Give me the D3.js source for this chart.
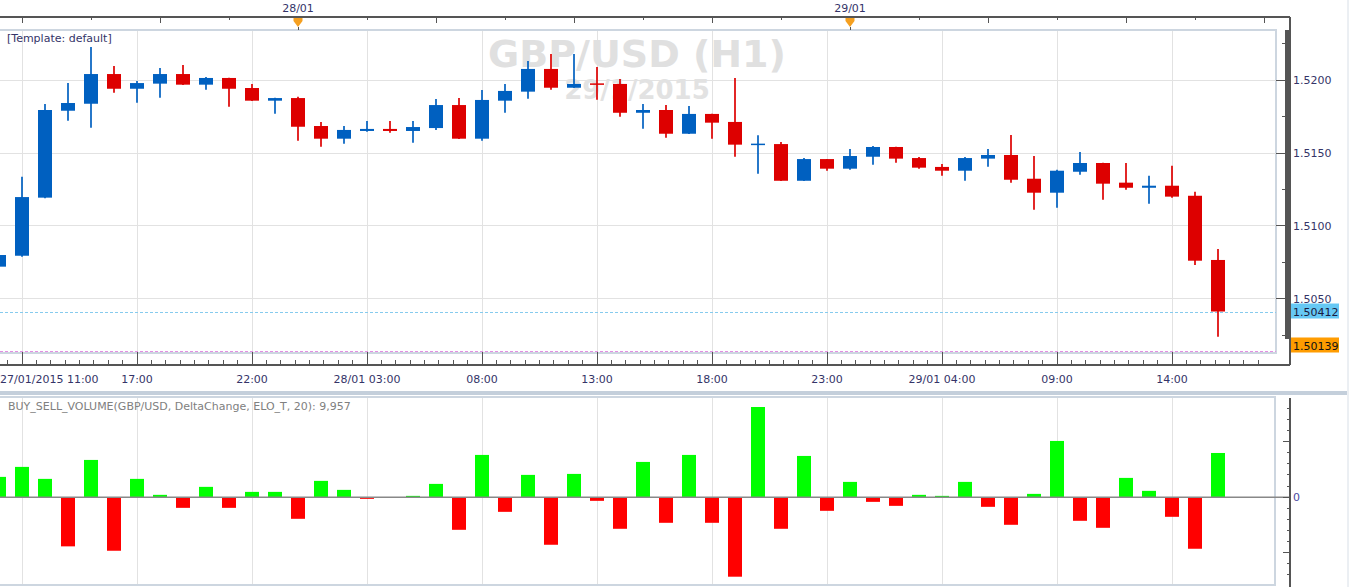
<!DOCTYPE html>
<html lang="en">
<head>
    <meta charset="UTF-8">
    <title>GBP/USD (H1)</title>
    <script src="https://d3js.org/d3.v7.min.js"></script>
    <style>
        body {
            margin: 0;
            background: white;
            font-family: "DejaVu Sans", Verdana, sans-serif;
        }
        svg text {
            font-size: 11px;
        }
        .grid {
            stroke: #e2e2e2;
            stroke-width: 1;
            shape-rendering: crispEdges;
        }
        .axis-line {
            stroke: #555;
            stroke-width: 1.5;
            shape-rendering: crispEdges;
        }
        .tick {
            stroke: #555;
            stroke-width: 1;
            shape-rendering: crispEdges;
        }
        .lbl {
            fill: #343468;
        }
        .panel {
            fill: none;
            stroke: #cdd6e0;
            stroke-width: 2;
        }
    </style>
</head>
<body>
<svg id="chart" width="1350" height="587"></svg>
<script>
    // candles, first one is index -1 (partly off the left edge)
    const firstIndex = -1;
    const openPrices = [1.50720, 1.50795, 1.51194, 1.51791, 1.51839, 1.52043, 1.51942, 1.51977, 1.52043, 1.51970,
        1.52016, 1.51947, 1.51860, 1.51878, 1.51686, 1.51599, 1.51652, 1.51666, 1.51652, 1.51672,
        1.51830, 1.51599, 1.51860, 1.51922, 1.52078, 1.51949, 1.51979, 1.51975, 1.51777, 1.51796,
        1.51633, 1.51769, 1.51714, 1.51558, 1.51562, 1.51310, 1.51459, 1.51393, 1.51475, 1.51542,
        1.51466, 1.51405, 1.51379, 1.51462, 1.51487, 1.51324, 1.51228, 1.51372, 1.51432, 1.51297,
        1.51262, 1.51276, 1.51207, 1.50766];
    const highPrices = [1.50821, 1.51338, 1.51837, 1.51981, 1.52229, 1.52098, 1.51995, 1.52084, 1.52105, 1.52023,
        1.52018, 1.51975, 1.51880, 1.51887, 1.51714, 1.51686, 1.51720, 1.51720, 1.51720, 1.51872,
        1.51878, 1.51933, 1.51975, 1.52133, 1.52181, 1.52181, 1.52091, 1.52009, 1.51837, 1.51830,
        1.51823, 1.51770, 1.52016, 1.51622, 1.51576, 1.51466, 1.51460, 1.51528, 1.51549, 1.51543,
        1.51473, 1.51425, 1.51473, 1.51528, 1.51624, 1.51480, 1.51386, 1.51508, 1.51433, 1.51432,
        1.51345, 1.51413, 1.51235, 1.50841];
    const lowPrices = [1.50711, 1.50788, 1.51190, 1.51723, 1.51674, 1.51915, 1.51846, 1.51880, 1.51968, 1.51935,
        1.51819, 1.51858, 1.51771, 1.51585, 1.51544, 1.51565, 1.51647, 1.51640, 1.51571, 1.51659,
        1.51597, 1.51585, 1.51777, 1.51874, 1.51935, 1.51947, 1.51867, 1.51750, 1.51668, 1.51606,
        1.51631, 1.51599, 1.51475, 1.51359, 1.51308, 1.51308, 1.51379, 1.51386, 1.51420, 1.51434,
        1.51393, 1.51345, 1.51310, 1.51407, 1.51297, 1.51111, 1.51125, 1.51352, 1.51180, 1.51249,
        1.51152, 1.51194, 1.50731, 1.50239];
    const closePrices = [1.50800, 1.51198, 1.51796, 1.51844, 1.52043, 1.51942, 1.51981, 1.52043, 1.51970, 1.52016,
        1.51942, 1.51860, 1.51878, 1.51681, 1.51599, 1.51659, 1.51666, 1.51652, 1.51679, 1.51830,
        1.51599, 1.51865, 1.51927, 1.52078, 1.51949, 1.51975, 1.51973, 1.51777, 1.51796, 1.51633,
        1.51769, 1.51709, 1.51558, 1.51565, 1.51310, 1.51459, 1.51393, 1.51480, 1.51542, 1.51462,
        1.51400, 1.51379, 1.51466, 1.51487, 1.51317, 1.51228, 1.51379, 1.51432, 1.51290, 1.51262,
        1.51276, 1.51201, 1.50761, 1.50412];
    // BUY_SELL_VOLUME delta per candle
    const deltaVolume = [4570, 6820, 4120, -11090, 8390, -12080, 4120, 520, -2410, 2320,
        -2410, 1190, 1190, -4880, 3670, 1640, -380, -160, 290, 2990,
        -7360, 9520, -3310, 5020, -10730, 5240, -830, -7130, 7940, -5780,
        9520, -5780, -17930, 20320, -7130, 9290, -3080, 3440, -1060, -1960,
        520, 290, 3440, -2180, -6230, 740, 12670, -5330, -6910, 4340,
        1420, -4430, -11630, 9957];

    const timeLabels = [
        { i: 0, text: "27/01/2015 11:00" }, { i: 5, text: "17:00" }, { i: 10, text: "22:00" },
        { i: 15, text: "28/01 03:00" }, { i: 20, text: "08:00" }, { i: 25, text: "13:00" },
        { i: 30, text: "18:00" }, { i: 35, text: "23:00" }, { i: 40, text: "29/01 04:00" },
        { i: 45, text: "09:00" }, { i: 50, text: "14:00" }
    ];
    const dayLabels = [{ i: 12, text: "28/01" }, { i: 36, text: "29/01" }];
    const priceTicks = [1.5050, 1.5100, 1.5150, 1.5200];
    const currentPrice = 1.50412;
    const lowestPrice = 1.50139;

    const candles = openPrices.map((o, k) => ({
        i: firstIndex + k,
        open: o, high: highPrices[k], low: lowPrices[k], close: closePrices[k],
        delta: deltaVolume[k]
    }));

    const svg = d3.select("#chart");
    const axisX = 1290, plotRight = 1276;
    const priceTop = 31, priceBottom = 352;
    const indTop = 398, indBottom = 585;

    const x = d3.scaleLinear().domain([0, 50]).range([22, 1172]);
    const y = d3.scaleLinear().domain([1.5050, 1.5200]).range([298.7, 80.3]);
    const yInd = d3.scaleLinear().domain([-19800, 22350]).range([indBottom, indTop]);
    const candleW = 14;

    // ---- top time axis
    svg.append("line").attr("class", "axis-line")
        .attr("x1", 0).attr("x2", axisX).attr("y1", 17).attr("y2", 17);
    d3.range(0, 55, 3).forEach(i => {
        svg.append("line").attr("class", "tick")
            .attr("x1", x(i)).attr("x2", x(i))
            .attr("y1", 17).attr("y2", i % 6 === 0 ? 23 : 20);
    });

    // ---- price panel
    svg.append("rect").attr("class", "panel")
        .attr("x", -2).attr("y", 30).attr("width", plotRight + 2).attr("height", priceBottom - 29);

    d3.range(0, 55, 5).forEach(i => {
        svg.append("line").attr("class", "grid")
            .attr("x1", x(i)).attr("x2", x(i)).attr("y1", priceTop).attr("y2", priceBottom);
        svg.append("line").attr("class", "grid")
            .attr("x1", x(i)).attr("x2", x(i)).attr("y1", indTop).attr("y2", indBottom);
    });
    priceTicks.forEach(p => {
        svg.append("line").attr("class", "grid")
            .attr("x1", 0).attr("x2", plotRight).attr("y1", y(p)).attr("y2", y(p));
    });

    // watermark
    svg.append("text")
        .attr("x", 637).attr("y", 67)
        .attr("text-anchor", "middle")
        .style("font-size", "38px").style("font-weight", "bold")
        .attr("fill", "#e0e0e0")
        .text("GBP/USD (H1)");
    svg.append("text")
        .attr("x", 637).attr("y", 99)
        .attr("text-anchor", "middle")
        .style("font-size", "26px").style("font-weight", "bold")
        .attr("fill", "#e2e2e2")
        .text("29/1/2015");

    svg.append("text").attr("class", "lbl")
        .attr("x", 7).attr("y", 42)
        .text("[Template: default]");

    // dashed price lines
    svg.append("line")
        .attr("x1", 0).attr("x2", plotRight)
        .attr("y1", Math.round(y(currentPrice)) + 0.5).attr("y2", Math.round(y(currentPrice)) + 0.5)
        .attr("stroke", "#86cbee").attr("stroke-dasharray", "3,2");
    svg.append("line")
        .attr("x1", 0).attr("x2", plotRight)
        .attr("y1", Math.round(y(lowestPrice)) + 0.5).attr("y2", Math.round(y(lowestPrice)) + 0.5)
        .attr("stroke", "#e38fe3").attr("stroke-dasharray", "3,2");

    // candles
    const candleG = svg.append("g");
    candles.forEach(c => {
        const col = c.close >= c.open ? "#0060c0" : "#dd0000";
        candleG.append("line")
            .attr("x1", x(c.i)).attr("x2", x(c.i))
            .attr("y1", y(c.high)).attr("y2", y(c.low))
            .attr("stroke", col).attr("stroke-width", 1.7);
        const top = y(Math.max(c.open, c.close));
        const h = Math.max(1.5, Math.abs(y(c.open) - y(c.close)));
        candleG.append("rect")
            .attr("x", x(c.i) - candleW / 2).attr("y", top)
            .attr("width", candleW).attr("height", h)
            .attr("fill", col);
    });

    // ---- right price axis
    svg.append("line").attr("class", "axis-line")
        .attr("x1", axisX).attr("x2", axisX).attr("y1", 17).attr("y2", 365);
    d3.range(150230, 152350, 5).forEach(v => {
        const p = v / 100000;
        const yy = y(p);
        if (yy < 20 || yy > 362) return;
        let len = 5;
        if (v % 500 === 0) len = 14;
        else if (v % 250 === 0) len = 8;
        svg.append("line").attr("class", "tick")
            .attr("x1", axisX - len).attr("x2", axisX).attr("y1", yy).attr("y2", yy);
    });
    priceTicks.forEach(p => {
        svg.append("text").attr("class", "lbl")
            .attr("x", 1293).attr("y", y(p) + 4)
            .text(d3.format(".4f")(p));
    });

    // price boxes on the axis, kept above the bottom time axis
    function priceBox(p, bg, fg) {
        const yy = Math.min(y(p), 345.5);
        svg.append("rect")
            .attr("x", 1291).attr("y", yy - 8).attr("width", 48).attr("height", 15)
            .attr("fill", bg);
        svg.append("text")
            .attr("x", 1293).attr("y", yy + 4)
            .attr("fill", fg)
            .text(d3.format(".5f")(p));
    }
    priceBox(currentPrice, "#66c8f4", "#1a1a40");
    priceBox(lowestPrice, "#ff9c00", "#111");

    // day markers on the top axis
    dayLabels.forEach(d => {
        const cx = x(d.i);
        svg.append("text").attr("class", "lbl")
            .attr("x", cx).attr("y", 12)
            .attr("text-anchor", "middle")
            .text(d.text);
        svg.append("path")
            .attr("d", `M${cx - 4.5},18 L${cx + 4.5},18 L${cx + 4.5},21 L${cx},27 L${cx - 4.5},21 Z`)
            .attr("fill", "#f5a020");
        svg.append("line").attr("class", "tick")
            .attr("stroke", "#999")
            .attr("x1", cx).attr("x2", cx).attr("y1", 27).attr("y2", 30);
    });

    // ---- bottom time axis
    svg.append("line").attr("class", "axis-line")
        .attr("x1", 0).attr("x2", axisX).attr("y1", 365).attr("y2", 365);
    d3.range(-0.625, 54, 0.625).forEach(i => {
        const xx = x(i);
        if (xx > plotRight) return;
        const major = Math.abs(i % 5) < 1e-9;
        svg.append("line").attr("class", "tick")
            .attr("x1", xx).attr("x2", xx)
            .attr("y1", major ? 352 : 360).attr("y2", 365);
    });
    timeLabels.forEach(l => {
        const t = svg.append("text").attr("class", "lbl")
            .attr("x", x(l.i)).attr("y", 383)
            .attr("text-anchor", "middle")
            .text(l.text);
        const w = t.node().getComputedTextLength();
        if (x(l.i) - w / 2 < 0) {
            t.attr("text-anchor", "start").attr("x", 0);
        }
    });

    // separator between panels
    svg.append("rect")
        .attr("x", 0).attr("y", 391).attr("width", 1347).attr("height", 4)
        .attr("fill", "#c4cfdb");
    svg.append("line")
        .attr("x1", 1348).attr("x2", 1348).attr("y1", 0).attr("y2", 587)
        .attr("stroke", "#d8dfe7");

    // ---- indicator panel
    svg.append("rect").attr("class", "panel")
        .attr("x", -2).attr("y", indTop - 1).attr("width", plotRight + 1).attr("height", indBottom - indTop + 1);

    svg.append("text")
        .attr("x", 8).attr("y", 410)
        .attr("fill", "#808080")
        .text("BUY_SELL_VOLUME(GBP/USD, DeltaChange, ELO_T, 20): " + d3.format(",")(deltaVolume[deltaVolume.length - 1]));

    candles.forEach(c => {
        svg.append("rect")
            .attr("x", x(c.i) - candleW / 2)
            .attr("y", Math.min(yInd(0), yInd(c.delta)))
            .attr("width", candleW)
            .attr("height", Math.abs(yInd(c.delta) - yInd(0)))
            .attr("fill", c.delta >= 0 ? "#00ff00" : "#ff0000");
    });

    svg.append("line")
        .attr("x1", 0).attr("x2", axisX)
        .attr("y1", yInd(0)).attr("y2", yInd(0))
        .attr("stroke", "#888").attr("stroke-width", 1.5);

    svg.append("line").attr("class", "axis-line")
        .attr("x1", axisX).attr("x2", axisX).attr("y1", indTop).attr("y2", 587);
    d3.range(-17500, 22500, 2500).forEach(v => {
        const len = v % 12500 === 0 ? 7 : 3;
        svg.append("line").attr("class", "tick")
            .attr("x1", axisX - len).attr("x2", axisX)
            .attr("y1", yInd(v)).attr("y2", yInd(v));
    });
    svg.append("text")
        .attr("x", 1293).attr("y", yInd(0) + 4)
        .attr("fill", "#4a4aa0")
        .text("0");
</script>
</body>
</html>
